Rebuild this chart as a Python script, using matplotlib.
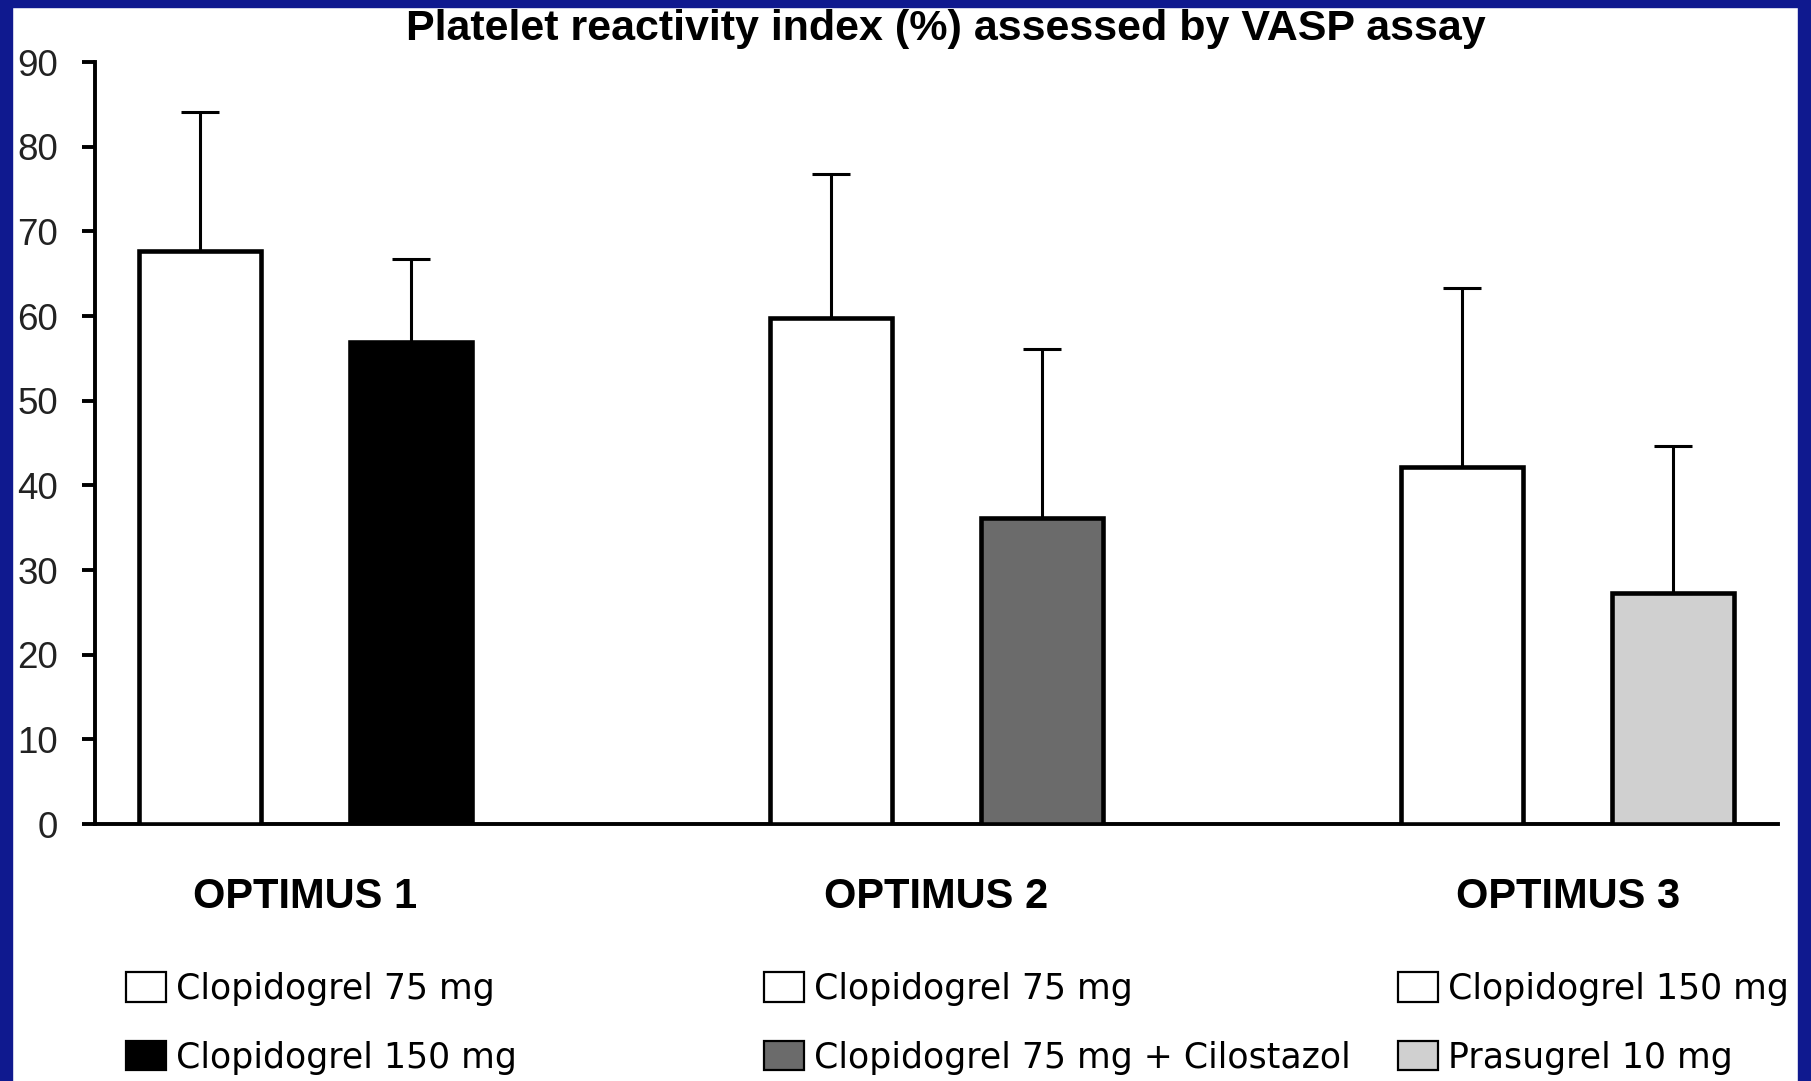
import matplotlib
matplotlib.use("Agg")
import matplotlib.pyplot as plt
from matplotlib.patches import Rectangle, Patch
import numpy as np

# Study groups and treatment arms
studies = ["OPTIMUS 1", "OPTIMUS 2", "OPTIMUS 3"]
reference_arm = ["Clopidogrel 75 mg", "Clopidogrel 75 mg", "Clopidogrel 150 mg"]
intensified_arm = ["Clopidogrel 150 mg", "Clopidogrel 75 mg + Cilostazol", "Prasugrel 10 mg"]

# Platelet reactivity index (%) mean and standard deviation
reference_mean = [67.7, 59.8, 42.2]
reference_sd = [16.4, 17.0, 21.1]
intensified_mean = [56.9, 36.1, 27.3]
intensified_sd = [9.8, 20.0, 17.3]

y_ticks = [0, 10, 20, 30, 40, 50, 60, 70, 80, 90]
title = "Platelet reactivity index (%) assessed by VASP assay"

reference_colors = ["white", "white", "white"]
intensified_colors = ["black", "#6b6b6b", "#d0d0d0"]

W, H = 1811, 1081
fig = plt.figure(figsize=(W / 100, H / 100), dpi=100)
fig.patch.set_facecolor("white")

# Dark-blue slide frame
frame = "#0f198f"
for (x0, y0, w, h) in [(0, H - 7, W, 7), (0, 0, 12, H), (1798, 0, W - 1798, H)]:
    fig.patches.append(Rectangle((x0 / W, y0 / H), w / W, h / H,
                                 transform=fig.transFigure, color=frame, zorder=0))

ax_left, ax_right, ax_bottom, ax_top = 95, 1778, 1081 - 824, 1081 - 62
ax = fig.add_axes([ax_left / W, ax_bottom / H, (ax_right - ax_left) / W, (ax_top - ax_bottom) / H])
ax.set_facecolor("none")

x = np.arange(len(studies))
offset = 0.167
width = 0.193
err_kw = dict(ecolor="black", elinewidth=2.2, capsize=13.5, capthick=2.2)

ax.bar(x - offset, reference_mean, width, color=reference_colors, edgecolor="black",
       linewidth=3.3, yerr=[np.zeros(3), reference_sd], error_kw=err_kw, zorder=3)
ax.bar(x + offset, intensified_mean, width, color=intensified_colors, edgecolor="black",
       linewidth=3.3, yerr=[np.zeros(3), intensified_sd], error_kw=err_kw, zorder=3)

ax.set_xlim(-1 / 3, 7 / 3)
ax.set_ylim(0, 90)
ax.set_yticks(y_ticks)
ax.set_xticks(x)
ax.set_xticklabels(studies, fontsize=30, fontweight="bold", family="Liberation Sans")
ax.tick_params(axis="x", length=0, pad=38)
ax.tick_params(axis="y", length=9.5, width=2.8, pad=17, labelsize=26.5, labelcolor="#222222")
for lbl in ax.get_yticklabels():
    lbl.set_family("Liberation Sans")

for side in ["top", "right"]:
    ax.spines[side].set_visible(False)
for side in ["left", "bottom"]:
    ax.spines[side].set_linewidth(2.8)

fig.text(946 / W, (H - 40) / H, title, ha="center", va="baseline",
         fontsize=31, fontweight="bold", family="Liberation Sans")

# One legend column per study
col_x = [126, 764, 1398]
for i in range(len(studies)):
    handles = [Patch(facecolor=reference_colors[i], edgecolor="black", linewidth=1.6),
               Patch(facecolor=intensified_colors[i], edgecolor="black", linewidth=1.6)]
    fig.legend(handles, [reference_arm[i], intensified_arm[i]],
               loc="upper left", bbox_to_anchor=(col_x[i] / W, (H - 972) / H),
               frameon=False, borderpad=0, borderaxespad=0,
               handlelength=1.15, handleheight=0.92, handletextpad=0.3,
               labelspacing=1.0, prop={"family": "DejaVu Sans", "size": 25})

fig.savefig("out.png", dpi=100, facecolor=fig.get_facecolor())
